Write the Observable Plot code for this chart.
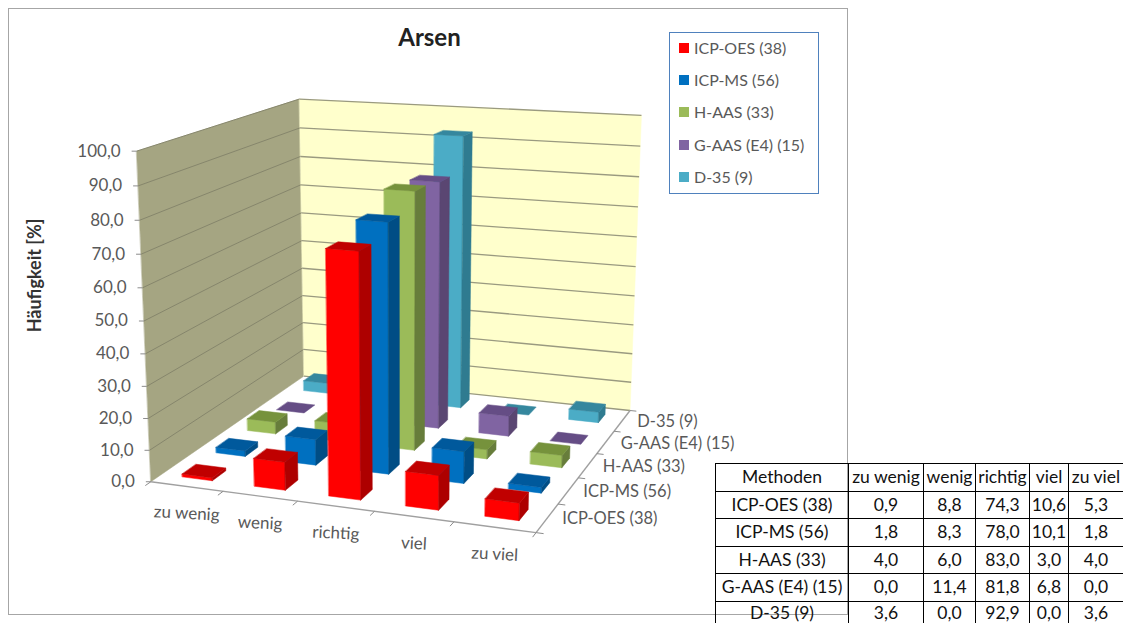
<!DOCTYPE html>
<html lang="de">
<head>
<meta charset="utf-8">
<title>Arsen</title>
<script src="https://cdn.jsdelivr.net/npm/d3@7"></script>
<script src="https://cdn.jsdelivr.net/npm/@observablehq/plot@0.6"></script>
<style>
  html, body { margin: 0; padding: 0; background: #fff; overflow: hidden; }
  #page { position: relative; width: 1123px; height: 623px; overflow: hidden; font-family: Lato, "Open Sans", sans-serif; }
  #page svg { position: absolute; left: 0; top: 0; }
  #frame { position: absolute; left: 8px; top: 8px; width: 838px; height: 605px; border: 1px solid #a6a6a6; box-sizing: content-box; }
  #legend { position: absolute; left: 669px; top: 32px; width: 148px; height: 160px; border: 1.5px solid #4f81bd; color: #595959; font-size: 16px; }
  #legend div { position: absolute; left: 24px; white-space: nowrap; line-height: 18px; }
  #legend i { position: absolute; left: -15px; top: 4px; width: 10px; height: 10px; }
  table { position: absolute; left: 715px; top: 463px; border-collapse: collapse; table-layout: fixed; width: 408px; color: #111; font-size: 17.5px; }
  td { border: 1px solid #000; height: 26.5px; padding: 0; text-align: center; white-space: nowrap; overflow: visible; line-height: 26px; }
  tr:last-child td { vertical-align: top; line-height: 21px; }
</style>
</head>
<body>
<div id="page"></div>
<script>
// Methods, result classes and the share of results per class in percent
const categories = ["zu wenig", "wenig", "richtig", "viel", "zu viel"];
const methods = ["ICP-OES (38)", "ICP-MS (56)", "H-AAS (33)", "G-AAS (E4) (15)", "D-35 (9)"];
const icpOes = [0.9, 8.8, 74.3, 10.6, 5.3];
const icpMs = [1.8, 8.3, 78.0, 10.1, 1.8];
const hAas = [4.0, 6.0, 83.0, 3.0, 4.0];
const gAas = [0.0, 11.4, 81.8, 6.8, 0.0];
const d35 = [3.6, 0.0, 92.9, 0.0, 3.6];
const seriesValues = [icpOes, icpMs, hAas, gAas, d35];
const axisTicks = [0, 10, 20, 30, 40, 50, 60, 70, 80, 90, 100];

// Face colours per method: front, side, top
const shades = [
  ["#ff0000", "#ad0000", "#c00000"],
  ["#0070c0", "#004d85", "#00599c"],
  ["#9bbb59", "#677d3b", "#76923c"],
  ["#8064a2", "#5a4672", "#654d85"],
  ["#4bacc6", "#2f7b90", "#35879e"]
];

const fmt = v => v.toFixed(1).replace(".", ",");

// Perspective camera fitted to the corners of the plot box.
// u runs along the classes, v into the depth, w up the percentage axis.
const cameraFit = [
  [0, 0, 0, 151, 482], [0, 0, 1, 136, 150], [1, 0, 0, 535, 532], [0, 1, 0, 303, 375],
  [1, 1, 0, 630, 410], [0, 1, 1, 299, 99], [1, 1, 1, 641, 115]
];

function solveCamera(samples) {
  const rows = [], rhs = [];
  for (const [u, v, w, x, y] of samples) {
    rows.push([u, v, w, 1, 0, 0, 0, 0, -x * u, -x * v, -x * w]); rhs.push(x);
    rows.push([0, 0, 0, 0, u, v, w, 1, -y * u, -y * v, -y * w]); rhs.push(y);
  }
  const n = 11;
  const M = d3.range(n).map(a => [
    ...d3.range(n).map(b => d3.sum(rows, r => r[a] * r[b])),
    d3.sum(rows, (r, k) => r[a] * rhs[k])
  ]);
  for (let c = 0; c < n; c++) {
    let p = c;
    for (let r = c + 1; r < n; r++) if (Math.abs(M[r][c]) > Math.abs(M[p][c])) p = r;
    [M[c], M[p]] = [M[p], M[c]];
    for (let r = 0; r < n; r++) {
      if (r === c) continue;
      const f = M[r][c] / M[c][c];
      for (let k = c; k <= n; k++) M[r][k] -= f * M[c][k];
    }
  }
  return M.map((r, i) => r[n] / r[i]);
}
const cam = solveCamera(cameraFit);
const project = (u, v, w) => {
  const d = cam[8] * u + cam[9] * v + cam[10] * w + 1;
  return [
    (cam[0] * u + cam[1] * v + cam[2] * w + cam[3]) / d,
    (cam[4] * u + cam[5] * v + cam[6] * w + cam[7]) / d
  ];
};

// Every surface is a list of projected vertices sharing one polygon id
const polygons = [];
let polygonId = 0;
function face(color, corners) {
  polygonId++;
  for (const c of corners) {
    const [x, y] = project(...c);
    polygons.push({id: polygonId, color, x, y});
  }
}

// Walls
face("#a5a582", [[0, 0, 0], [0, 1, 0], [0, 1, 1], [0, 0, 1]]);
face("#ffffcc", [[0, 1, 0], [1, 1, 0], [1, 1, 1], [0, 1, 1]]);
const wallPolygons = polygons.splice(0);

// Bars, painted from the back row forward and left to right in each row
const barWidth = 0.42 / categories.length;
const barDepth = 0.40 / methods.length;
for (let j = methods.length - 1; j >= 0; j--) {
  categories.forEach((_, i) => {
    const h = seriesValues[j][i] / 100;
    const uc = (i + 0.5) / categories.length, vc = (j + 0.5) / methods.length;
    const u0 = uc - barWidth / 2, u1 = uc + barWidth / 2;
    const v0 = vc - barDepth / 2, v1 = vc + barDepth / 2;
    const [front, side, top] = shades[j];
    if (h > 0) {
      face(front, [[u0, v0, 0], [u1, v0, 0], [u1, v0, h], [u0, v0, h]]);
      face(side, [[u1, v0, 0], [u1, v1, 0], [u1, v1, h], [u1, v0, h]]);
    }
    face(top, [[u0, v0, h], [u1, v0, h], [u1, v1, h], [u0, v1, h]]);
  });
}

// Gridlines across both walls, axis edges and their ticks
const seg = (a, b) => { const p = project(...a), q = project(...b); return {x1: p[0], y1: p[1], x2: q[0], y2: q[1]}; };
const leftGrid = axisTicks.slice(1).map(t => seg([0, 0, t / 100], [0, 1, t / 100]));
const backGrid = axisTicks.map(t => seg([0, 1, t / 100], [1, 1, t / 100]));
const axisEdges = [seg([0, 0, 0], [1, 0, 0]), seg([1, 0, 0], [1, 1, 0])];
const catTicks = d3.range(categories.length + 1).map(i => seg([i / categories.length, 0, 0], [i / categories.length, -0.03, 0]));
const depthTicks = d3.range(methods.length + 1).map(j => seg([1, j / methods.length, 0], [1.018, j / methods.length, 0]));
const valueTicks = axisTicks.map(t => { const p = project(0, 0, t / 100); return {x1: p[0], y1: p[1], x2: p[0] - 5, y2: p[1], label: fmt(t)}; });
const catLabels = categories.map((label, i) => { const p = project((i + 0.5) / categories.length, 0, 0); return {x: p[0], y: p[1], label}; });
const depthLabels = methods.map((label, j) => { const p = project(1, (j + 0.5) / methods.length, 0); return {x: p[0], y: p[1], label}; });

const link = (data, stroke, strokeWidth = 1) => Plot.link(data, {x1: "x1", y1: "y1", x2: "x2", y2: "y2", stroke, strokeWidth});
const surface = data => Plot.line(data, {x: "x", y: "y", z: "id", fill: "color", stroke: "color", strokeWidth: 0.5, curve: "linear-closed"});
const labelColor = "#595959";

const chart = Plot.plot({
  width: 1123,
  height: 623,
  margin: 0,
  x: {domain: [0, 1123], range: [0, 1123], axis: null},
  y: {domain: [0, 623], range: [0, 623], axis: null},
  color: {type: "identity"},
  style: {background: "transparent", fontFamily: "Lato, 'Open Sans', sans-serif"},
  marks: [
    surface(wallPolygons),
    link(leftGrid, "#86866c"),
    link(backGrid, "#9a9a80", 1.3),
    surface(polygons),
    link(axisEdges, "#a0a0a0", 1.4),
    link(catTicks, "#8c8c8c"),
    link(depthTicks, "#8c8c8c"),
    link(valueTicks, "#8c8c8c"),
    Plot.text(valueTicks, {x: "x2", y: "y1", text: "label", dx: -11, textAnchor: "end", fontSize: 17, fill: labelColor}),
    Plot.text(catLabels, {x: "x", y: "y", text: "label", dy: 27, rotate: 3, fontSize: 17, fill: labelColor}),
    Plot.text(depthLabels, {x: "x", y: "y", text: "label", dx: 15, dy: 1, textAnchor: "start", fontSize: 16.5, fill: labelColor}),
    Plot.text(["Arsen"], {x: () => 429, y: () => 38, text: d => d, fontSize: 24, fontWeight: 700, fill: "#222"}),
    Plot.text(["Häufigkeit [%]"], {x: () => 35, y: () => 275, text: d => d, rotate: -90, fontSize: 18, fontWeight: 700, fill: "#333"})
  ]
});

const page = document.getElementById("page");
const frame = document.createElement("div");
frame.id = "frame";
page.append(frame, chart);

// Legend box
const legend = document.createElement("div");
legend.id = "legend";
methods.forEach((m, j) => {
  const row = document.createElement("div");
  row.style.top = `${6 + j * 32.2}px`;
  const swatch = document.createElement("i");
  swatch.style.background = shades[j][0];
  row.append(swatch, m);
  legend.append(row);
});
page.append(legend);

// Value table beside the chart
const table = document.createElement("table");
const colgroup = document.createElement("colgroup");
for (const w of [133, 75, 52, 54, 39, 55]) {
  const col = document.createElement("col");
  col.style.width = `${w}px`;
  colgroup.append(col);
}
table.append(colgroup);
const addRow = cells => {
  const tr = document.createElement("tr");
  for (const c of cells) {
    const td = document.createElement("td");
    td.textContent = c;
    tr.append(td);
  }
  table.append(tr);
};
addRow(["Methoden", ...categories]);
methods.forEach((m, j) => addRow([m, ...seriesValues[j].map(fmt)]));
page.append(table);
</script>
</body>
</html>
